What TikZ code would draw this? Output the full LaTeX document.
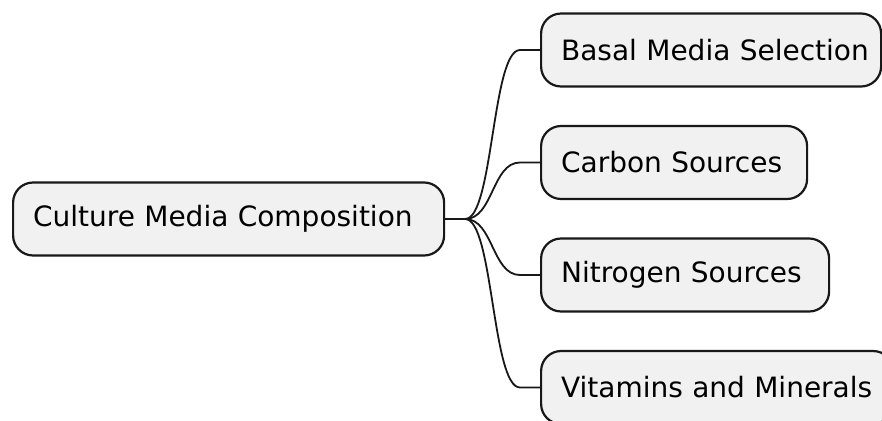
\documentclass[tikz,border=0pt]{standalone}
\usepackage{fontspec}
\setmainfont{DejaVu Sans}
\usetikzlibrary{calc}
\definecolor{boxfill}{HTML}{F1F1F1}
\definecolor{boxline}{HTML}{181818}
\tikzset{
  mmbox/.style={draw=boxline, fill=boxfill, line width=2.2pt, rounded corners=20pt,
    minimum height=73pt, inner xsep=20pt, inner ysep=0pt, align=left,
    font=\fontsize{28}{34}\selectfont, text=black, anchor=west},
  mmlink/.style={draw=boxline, line width=1.8pt}
}
\begin{document}
\begin{tikzpicture}[x=1pt,y=-1pt]
\useasboundingbox (0,0) rectangle (882,420);
\node[mmbox, text width=391pt] (root) at (12,219) {\mbox{Culture Media Composition}};
\node[mmbox, text width=300pt] (basal) at (540,50) {\mbox{Basal Media Selection}};
\node[mmbox, text width=226pt] (carbon) at (540,162.5) {\mbox{Carbon Sources}};
\node[mmbox, text width=248pt] (nitro) at (540,275) {\mbox{Nitrogen Sources}};
\node[mmbox, text width=312pt] (vita) at (540,387.5) {\mbox{Vitamins and Minerals}};
\coordinate (j) at ($(root.east)+(20,0)$);
\draw[mmlink] (root.east) -- (j);
\foreach \c in {basal,carbon,nitro,vita}{
  \draw[mmlink] (j) .. controls ($(j)+(28,0)$) and ($(\c.west)+(-48,0)$) .. ($(\c.west)+(-20,0)$) -- (\c.west);
}
\end{tikzpicture}
\end{document}
